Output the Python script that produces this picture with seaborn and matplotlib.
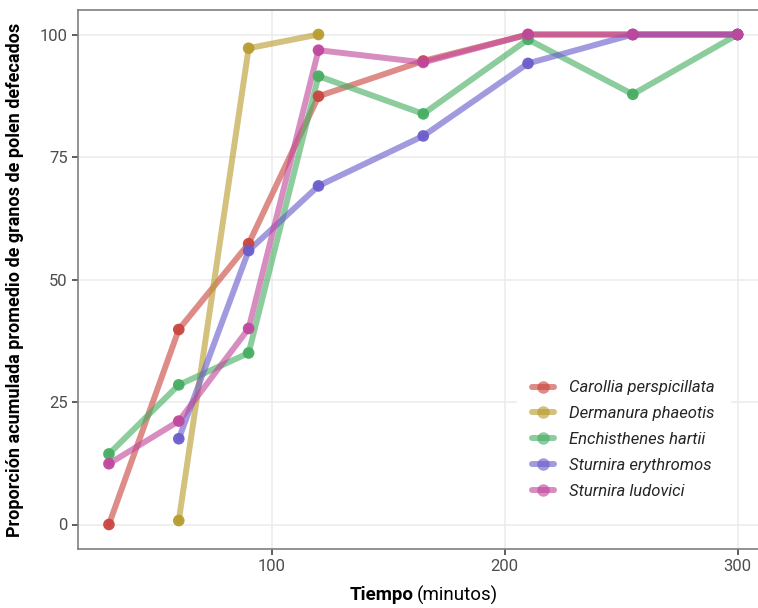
import numpy as np
import pandas as pd
import matplotlib
matplotlib.use("Agg")
import matplotlib.pyplot as plt
import seaborn as sns
from matplotlib.lines import Line2D

species = ["Carollia perspicillata", "Dermanura phaeotis", "Enchisthenes hartii",
           "Sturnira erythromos", "Sturnira ludovici"]
colors = ["#C9463F", "#B89C2E", "#45AE62", "#6A5DCB", "#C0479C"]

t_carollia = [30, 60, 90, 120, 165, 210, 255, 300]
v_carollia = [0, 39.8, 57.3, 87.4, 94.6, 100, 100, 100]
t_dermanura = [60, 90, 120]
v_dermanura = [0.8, 97.2, 100]
t_enchisthenes = [30, 60, 90, 120, 165, 210, 255, 300]
v_enchisthenes = [14.4, 28.5, 35.0, 91.5, 83.8, 99.0, 87.8, 100]
t_erythromos = [60, 90, 120, 165, 210, 255, 300]
v_erythromos = [17.5, 55.9, 69.1, 79.3, 94.1, 100, 100]
t_ludovici = [30, 60, 90, 120, 165, 210, 255, 300]
v_ludovici = [12.4, 21.1, 40.0, 96.8, 94.3, 100, 100, 100]

xticks = [100, 200, 300]
yticks = [0, 25, 50, 75, 100]

times = [t_carollia, t_dermanura, t_enchisthenes, t_erythromos, t_ludovici]
vals = [v_carollia, v_dermanura, v_enchisthenes, v_erythromos, v_ludovici]
df = pd.concat([pd.DataFrame({"tiempo": t, "prop": v, "especie": s})
                for s, t, v in zip(species, times, vals)], ignore_index=True)

sns.set_theme(style="whitegrid")
fam = ["Roboto", "DejaVu Sans"]
plt.rcParams["font.family"] = fam

fig = plt.figure(figsize=(7.58, 6.08), dpi=100)
ax = fig.add_axes([77.5 / 758, 1 - 549 / 608, (769 - 77.5) / 758, (549 - 10) / 608])
pal = dict(zip(species, colors))

sns.lineplot(data=df, x="tiempo", y="prop", hue="especie", palette=pal,
             linewidth=4.3, alpha=0.62, legend=False, ax=ax, sort=False)
sns.scatterplot(data=df, x="tiempo", y="prop", hue="especie", palette=pal,
                s=70, alpha=0.95, edgecolor="none", legend=False, ax=ax, zorder=5)

ax.set_xlim(16.5, 313.5)
ax.set_ylim(-5, 105)
ax.set_xticks(xticks)
ax.set_yticks(yticks)
ax.grid(True, color="#EBEBEB", linewidth=1.1)
ax.set_facecolor("white")
for side in ["left", "bottom", "top"]:
    ax.spines[side].set_visible(True)
    ax.spines[side].set_color("#7F7F7F")
    ax.spines[side].set_linewidth(1.2)
ax.spines["right"].set_visible(False)
ax.tick_params(axis="both", which="both", length=4, width=1.1, color="#333333",
               labelsize=12, labelcolor="#4D4D4D", left=True, bottom=True, pad=3)
ax.set_xlabel("")
ax.set_ylabel("Proporción acumulada promedio de granos de polen defecados",
              fontsize=13, fontweight="bold", color="black", labelpad=11)

fig.text(414 / 758, 1 - 595 / 608, "Tiempo", ha="right", va="center",
         fontsize=13.5, fontweight="bold", color="black")
fig.text(417 / 758, 1 - 595 / 608, "(minutos)", ha="left", va="center",
         fontsize=13.5, color="black")

handles = [Line2D([0], [0], color=c, lw=4.3, alpha=0.62, marker="o",
                  markersize=9, markerfacecolor=c, markeredgecolor="none")
           for c in colors]
leg = ax.legend(handles, species, loc="lower right",
                frameon=True, facecolor="white", edgecolor="white", framealpha=1,
                prop={"style": "italic", "size": 12, "family": fam},
                handlelength=1.3, handletextpad=0.9, labelspacing=0.65,
                borderpad=0.9)
leg.set_bbox_to_anchor((738 / 758, 86 / 608), transform=fig.transFigure)

fig.savefig("out.png", dpi=100, facecolor="white")
